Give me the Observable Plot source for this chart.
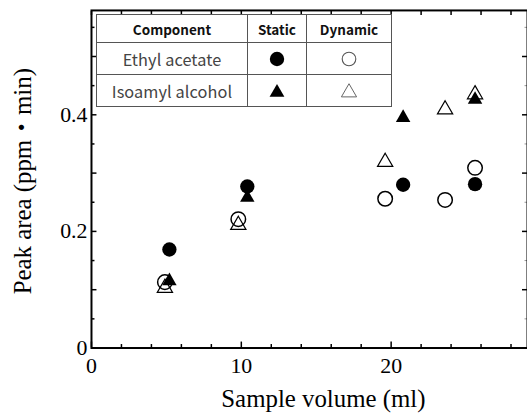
<!DOCTYPE html>
<html><head><meta charset="utf-8">
<script src="https://cdn.jsdelivr.net/npm/d3@7"></script>
<script src="https://cdn.jsdelivr.net/npm/@observablehq/plot@0.6"></script>
<style>
body{margin:0;background:#fff;overflow:hidden}
#wrap{position:relative;width:527px;height:415px;overflow:hidden;background:#fff}
#legend{position:absolute;left:96px;top:14px;border-collapse:collapse;background:#fff;font-family:"Noto Sans CJK JP","Noto Sans",sans-serif;border:1.5px solid #555}
#legend td,#legend th{border:1.3px solid #555;text-align:center;padding:0;vertical-align:middle}
#legend th{font-size:13.5px;font-weight:bold;color:#111;height:27px}
#legend td{font-size:16.3px;color:#444;height:31px;letter-spacing:0.1px}
#legend svg{display:block;margin:auto}
</style></head><body><div id="wrap"></div>
<script>
const xLabel = "Sample volume (ml)";
const yLabel = "Peak area (ppm・min)";
const headerLabel = "Component";
const components = ["Ethyl acetate", "Isoamyl alcohol"];
const methods = ["Static", "Dynamic"];

const eaStaticX = [5.2, 10.4, 20.8, 25.6];
const eaStaticY = [0.169, 0.277, 0.280, 0.281];
const eaDynamicX = [4.9, 9.8, 19.6, 23.6, 25.6];
const eaDynamicY = [0.113, 0.221, 0.256, 0.254, 0.309];
const iaStaticX = [5.2, 10.4, 20.8, 25.6];
const iaStaticY = [0.115, 0.258, 0.395, 0.426];
const iaDynamicX = [4.9, 9.8, 19.6, 23.6, 25.6];
const iaDynamicY = [0.103, 0.211, 0.319, 0.409, 0.435];

const xMajorTicks = [0, 10, 20];
const xMinorTicks = [2, 4, 6, 8, 12, 14, 16, 18, 22, 24, 26, 28];
const yLabelTicks = [0, 0.2, 0.4];
const yMajorTicks = [0, 0.1, 0.2, 0.3, 0.4, 0.5];
const yMinorTicks = [0.05, 0.15, 0.25, 0.35, 0.45, 0.55];

const mk = (xs, ys) => xs.map((x, i) => ({x, y: ys[i]}));
const serif = "'Liberation Serif','Times New Roman','Noto Sans CJK JP',serif";

const plot = Plot.plot({
  width: 530, height: 415,
  marginLeft: 91.5, marginRight: 0, marginTop: 10, marginBottom: 65.5,
  x: {domain: [0, 29.1]},
  y: {domain: [0, 0.579]},
  style: {background: "white", color: "black", overflow: "visible"},
  marks: [
    Plot.axisX(xMajorTicks, {anchor: "bottom", tickSize: 0, tickPadding: 10, fontSize: 22, fontFamily: serif, tickFormat: d => String(d), label: null}),
    Plot.axisX(xMajorTicks, {anchor: "bottom", tickSize: -6, fill: "none", strokeWidth: 1.5, label: null}),
    Plot.axisX(xMinorTicks, {anchor: "bottom", tickSize: -3.5, fill: "none", strokeWidth: 1.5, label: null}),
    Plot.axisX(xMajorTicks.concat(xMinorTicks), {anchor: "top", tickSize: -4, fill: "none", strokeWidth: 1.5, label: null}),
    Plot.axisY(yLabelTicks, {anchor: "left", tickSize: 0, tickPadding: 4, fontSize: 22, fontFamily: serif, tickFormat: d => String(d), label: null}),
    Plot.axisY(yMajorTicks, {anchor: "left", tickSize: -5.5, fill: "none", strokeWidth: 1.5, label: null}),
    Plot.axisY(yMinorTicks, {anchor: "left", tickSize: -3.5, fill: "none", strokeWidth: 1.5, label: null}),
    Plot.axisY(yMajorTicks, {anchor: "right", tickSize: -6, fill: "none", strokeWidth: 1.5, label: null}),
    Plot.axisY(yMinorTicks, {anchor: "right", tickSize: -3.5, fill: "none", strokeWidth: 1, strokeOpacity: 0.4, label: null}),
    Plot.frame({stroke: "black", strokeWidth: 2}),
    Plot.dot(mk(eaDynamicX, eaDynamicY), {x: "x", y: "y", r: 7.3, fill: "none", stroke: "black", strokeWidth: 1.5}),
    Plot.dot(mk(iaDynamicX, iaDynamicY), {x: "x", y: "y", r: 5.7, symbol: "triangle", fill: "none", stroke: "black", strokeWidth: 1.2}),
    Plot.dot(mk(eaStaticX, eaStaticY), {x: "x", y: "y", r: 7.2, fill: "black", stroke: "none"}),
    Plot.dot(mk(iaStaticX, iaStaticY), {x: "x", y: "y", r: 5.4, symbol: "triangle", fill: "black", stroke: "none"}),
    Plot.text([xLabel], {frameAnchor: "bottom", textAnchor: "middle", lineAnchor: "middle", dy: 51, dx: 14, fontSize: 25, fontFamily: serif, fill: "black"}),
    Plot.text([yLabel], {frameAnchor: "left", textAnchor: "middle", lineAnchor: "middle", rotate: -90, dx: -69, dy: 2, fontSize: 25, fontFamily: serif, fill: "black"})
  ]
});
const wrap = document.getElementById("wrap");
wrap.appendChild(plot);

// legend table
const sym = (kind, filled) => {
  const s = d3.create("svg").attr("width", 18).attr("height", 18);
  if (kind === "circle") {
    s.append("circle").attr("cx", 9).attr("cy", 9).attr("r", filled ? 7.2 : 6.8)
      .attr("fill", filled ? "black" : "none").attr("stroke", filled ? "none" : "#555").attr("stroke-width", 1.1);
  } else {
    const path = d3.symbol(d3.symbolTriangle, filled ? 95 : 100)();
    s.append("path").attr("d", path).attr("transform", "translate(9,10.5)")
      .attr("fill", filled ? "black" : "none").attr("stroke", filled ? "none" : "#666").attr("stroke-width", 1);
  }
  return s.node();
};
const table = d3.create("table").attr("id", "legend");
const head = table.append("tr");
head.append("th").style("width", "150px").text(headerLabel);
head.append("th").style("width", "58px").text(methods[0]);
head.append("th").style("width", "84px").text(methods[1]);
components.forEach((c, i) => {
  const tr = table.append("tr");
  tr.append("td").text(c);
  const kind = i === 0 ? "circle" : "triangle";
  tr.append("td").node().appendChild(sym(kind, true));
  tr.append("td").node().appendChild(sym(kind, false));
});
wrap.appendChild(table.node());
</script></body></html>
